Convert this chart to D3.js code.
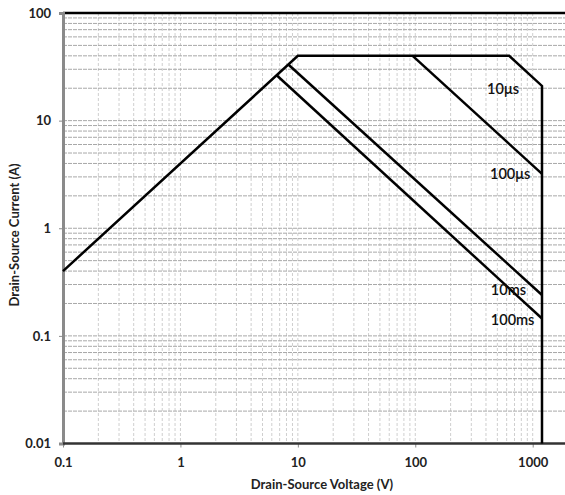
<!DOCTYPE html>
<html>
<head>
<meta charset="utf-8">
<script src="https://cdn.jsdelivr.net/npm/d3@7"></script>
<style>
  body { margin: 0; background: #fff; }
  text { font-family: Lato, "Open Sans", sans-serif; }
</style>
</head>
<body>
<div id="chart"></div>
<script>
// Safe operating area curves (V, A)
var boundary10us = [[0.1, 0.4], [10, 40], [630, 40], [1200, 21], [1200, 0.01]];
var line100us = [[95, 40], [1200, 3.2]];
var line10ms = [[8.3, 33.2], [1200, 0.24]];
var line100ms = [[6.6, 26.4], [1200, 0.145]];
var curveLabels = ["10\u03bcs", "100\u03bcs", "10ms", "100ms"];
var labelPos = [[409, 19.6], [433, 3.2], [440, 0.27], [440, 0.142]];
var xTicks = [0.1, 1, 10, 100, 1000];
var yTicks = [0.01, 0.1, 1, 10, 100];

var W = 565, H = 495;
var margin = { top: 13, right: 0, bottom: 52, left: 63 };

var svg = d3.select("#chart").append("svg")
  .attr("width", W).attr("height", H);

// log scales, one decade ~117px across, ~107.5px down
var x = d3.scaleLog().domain([0.1, 1000]).range([margin.left, 532.7]);
var y = d3.scaleLog().domain([0.01, 100]).range([H - margin.bottom + 0.5, margin.top]);
var xRight = W;

// minor + major grid values
function logGrid(lo, hi) {
  var out = [];
  for (var e = lo; e < hi; e++) {
    for (var m = 1; m < 10; m++) out.push(m * Math.pow(10, e));
  }
  out.push(Math.pow(10, hi));
  return out;
}
var xGrid = logGrid(-1, 3).concat([2000]);
var yGrid = logGrid(-2, 2);

// vertical gridlines
svg.append("g").selectAll("line")
  .data(xGrid.filter(function (d) { return x(d) > margin.left + 1 && x(d) < xRight; }))
  .enter().append("line")
  .attr("x1", function (d) { return x(d); })
  .attr("x2", function (d) { return x(d); })
  .attr("y1", y(100)).attr("y2", y(0.01))
  .attr("stroke", "#cfcfcf")
  .attr("stroke-width", 1)
  .attr("stroke-dasharray", "3,2");

// horizontal gridlines
svg.append("g").selectAll("line")
  .data(yGrid.filter(function (d) { return d > 0.01 && d < 100; }))
  .enter().append("line")
  .attr("x1", margin.left).attr("x2", xRight)
  .attr("y1", function (d) { return y(d); })
  .attr("y2", function (d) { return y(d); })
  .attr("stroke", "#a8a8a8")
  .attr("stroke-width", 1)
  .attr("stroke-dasharray", "4,1");

// top border at 100
svg.append("line")
  .attr("x1", margin.left).attr("x2", xRight)
  .attr("y1", y(100)).attr("y2", y(100))
  .attr("stroke", "#000").attr("stroke-width", 2.5);

// y axis
var yAxis = svg.append("g")
  .attr("transform", "translate(" + margin.left + ",0)")
  .call(d3.axisLeft(y).tickValues(yTicks).tickSize(4).tickPadding(8)
    .tickFormat(function (d) { return d3.format("~g")(d); }));
yAxis.select(".domain").attr("stroke", "#8a8a8a").attr("stroke-width", 3);
yAxis.selectAll(".tick line").attr("stroke", "#8a8a8a");
yAxis.selectAll("text").attr("font-size", 13).attr("font-weight", "bold").attr("fill", "#222");

// x axis
var xAxis = svg.append("g")
  .attr("transform", "translate(0," + y(0.01) + ")")
  .call(d3.axisBottom(x).tickValues(xTicks).tickSize(4).tickPadding(10)
    .tickFormat(function (d) { return d3.format("~g")(d); }));
xAxis.select(".domain").remove();
xAxis.selectAll(".tick line").attr("stroke", "#8a8a8a");
xAxis.selectAll("text").attr("font-size", 13).attr("font-weight", "bold").attr("fill", "#222");
svg.append("line")
  .attr("x1", margin.left).attr("x2", xRight)
  .attr("y1", y(0.01)).attr("y2", y(0.01))
  .attr("stroke", "#333").attr("stroke-width", 2.5);

// curves
var line = d3.line()
  .x(function (d) { return x(d[0]); })
  .y(function (d) { return y(d[1]); });

[boundary10us, line100us, line10ms, line100ms].forEach(function (pts) {
  svg.append("path")
    .datum(pts)
    .attr("d", line)
    .attr("fill", "none")
    .attr("stroke", "#000")
    .attr("stroke-width", 2.5)
    .attr("stroke-linejoin", "miter");
});

// curve labels
svg.append("g").selectAll("text")
  .data(curveLabels)
  .enter().append("text")
  .attr("x", function (d, i) { return x(labelPos[i][0]); })
  .attr("y", function (d, i) { return y(labelPos[i][1]); })
  .attr("dy", "0.35em")
  .attr("font-size", 14.5)
  .attr("font-weight", 600)
  .attr("fill", "#111")
  .text(function (d) { return d; });

// axis titles
svg.append("text")
  .attr("x", 322).attr("y", 489)
  .attr("text-anchor", "middle")
  .attr("font-size", 13).attr("font-weight", "bold").attr("fill", "#222")
  .text("Drain-Source Voltage (V)");

svg.append("text")
  .attr("transform", "translate(19,235) rotate(-90)")
  .attr("text-anchor", "middle")
  .attr("font-size", 13).attr("font-weight", "bold").attr("fill", "#222")
  .text("Drain-Source Current (A)");
</script>
</body>
</html>
